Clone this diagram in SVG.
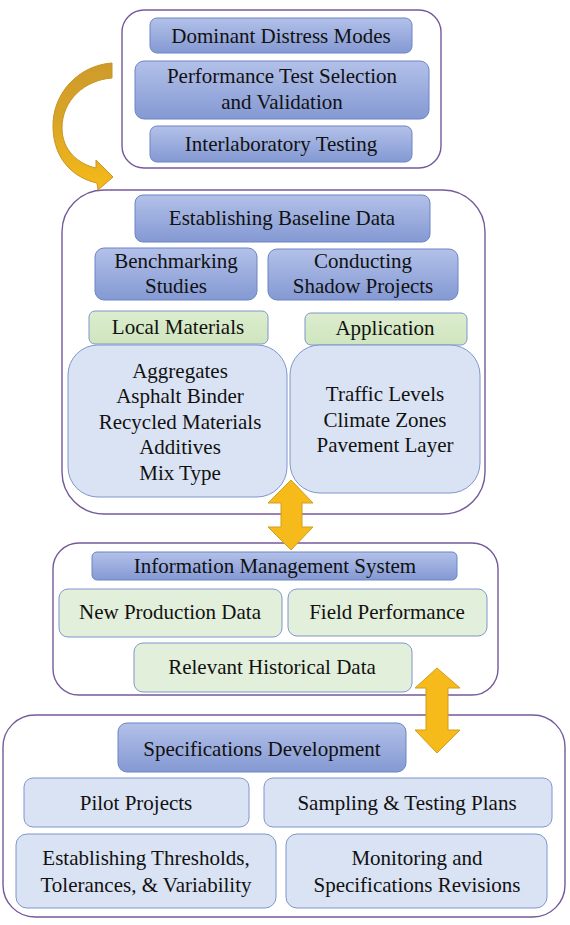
<svg xmlns="http://www.w3.org/2000/svg" width="570" height="925" viewBox="0 0 570 925">
<defs>
<linearGradient id="gDark" x1="0" y1="0" x2="0" y2="1">
<stop offset="0" stop-color="#B3C1E9"/>
<stop offset="1" stop-color="#8499D3"/>
</linearGradient>
<linearGradient id="gGreen" x1="0" y1="0" x2="0" y2="1">
<stop offset="0" stop-color="#DCEDCE"/>
<stop offset="1" stop-color="#CFE5BE"/>
</linearGradient>
<linearGradient id="gGold" x1="0" y1="0" x2="0" y2="1">
<stop offset="0" stop-color="#CE9A2C"/>
<stop offset="0.45" stop-color="#D9A526"/>
<stop offset="1" stop-color="#F6BA18"/>
</linearGradient>
<style>
.cont{fill:#FFFFFF;stroke:#76599A;stroke-width:1.4}
.dark{fill:url(#gDark);stroke:#6C84C2;stroke-width:1}
.light{fill:#DAE3F3;stroke:#7F96CC;stroke-width:1}
.green{fill:url(#gGreen);stroke:#7F96CC;stroke-width:1}
.pale{fill:#E2EFDA;stroke:#7F96CC;stroke-width:1}
.arr{fill:#F6BA1A;stroke:#D29E1E;stroke-width:1}
text{font-family:"Liberation Serif", "Times New Roman", serif;font-size:21px;fill:#111111;text-anchor:middle}
</style>
</defs>

<g id="container-top">
<rect class="cont" x="122" y="10" width="319" height="158" rx="22"/>
</g>
<g id="node-distress">
<rect class="dark" x="150" y="18" width="262" height="35" rx="7"/>
<text x="281" y="43">Dominant Distress Modes</text>
</g>
<g id="node-performance">
<rect class="dark" x="135" y="61" width="294" height="58" rx="9"/>
<text x="282" y="83">Performance Test Selection</text>
<text x="282" y="109">and Validation</text>
</g>
<g id="node-interlab">
<rect class="dark" x="150" y="126" width="262" height="36" rx="7"/>
<text x="281" y="151">Interlaboratory Testing</text>
</g>

<g id="container-baseline">
<rect class="cont" x="62" y="190" width="423" height="324" rx="42"/>
</g>
<g id="node-baseline">
<rect class="dark" x="135" y="195" width="295" height="47" rx="8"/>
<text x="282" y="225">Establishing Baseline Data</text>
</g>
<g id="node-benchmarking">
<rect class="dark" x="95" y="248" width="162" height="52" rx="9"/>
<text x="176" y="268">Benchmarking</text>
<text x="176" y="293">Studies</text>
</g>
<g id="node-shadow">
<rect class="dark" x="268" y="249" width="190" height="51" rx="9"/>
<text x="363" y="268">Conducting</text>
<text x="363" y="293">Shadow Projects</text>
</g>
<g id="node-local">
<rect class="green" x="89" y="311" width="179" height="33" rx="6"/>
<text x="178" y="334">Local Materials</text>
</g>
<g id="node-application">
<rect class="green" x="305" y="313" width="162" height="32" rx="6"/>
<text x="385" y="335">Application</text>
</g>
<g id="node-materials-list">
<rect class="light" x="68" y="345" width="219" height="152" rx="30"/>
<text x="180" y="378">Aggregates</text>
<text x="180" y="403">Asphalt Binder</text>
<text x="180" y="429">Recycled Materials</text>
<text x="180" y="454">Additives</text>
<text x="180" y="480">Mix Type</text>
</g>
<g id="node-application-list">
<rect class="light" x="290" y="345" width="190" height="148" rx="30"/>
<text x="385" y="401">Traffic Levels</text>
<text x="385" y="427">Climate Zones</text>
<text x="385" y="452">Pavement Layer</text>
</g>

<g id="container-ims">
<rect class="cont" x="53" y="543" width="445" height="152" rx="26"/>
</g>
<g id="node-ims">
<rect class="dark" x="92" y="552" width="365" height="28" rx="5"/>
<text x="275" y="573">Information Management System</text>
</g>
<g id="node-production">
<rect class="pale" x="59" y="589" width="223" height="48" rx="9"/>
<text x="170" y="619">New Production Data</text>
</g>
<g id="node-field">
<rect class="pale" x="288" y="589" width="199" height="47" rx="9"/>
<text x="387" y="619">Field Performance</text>
</g>
<g id="node-historical">
<rect class="pale" x="134" y="643" width="278" height="49" rx="9"/>
<text x="272" y="674">Relevant Historical Data</text>
</g>

<g id="container-specs">
<rect class="cont" x="3" y="715" width="562" height="202" rx="32"/>
</g>
<g id="node-specs">
<rect class="dark" x="118" y="723" width="288" height="49" rx="9"/>
<text x="262" y="756">Specifications Development</text>
</g>
<g id="node-pilot">
<rect class="light" x="24" y="778" width="225" height="49" rx="9"/>
<text x="136" y="810">Pilot Projects</text>
</g>
<g id="node-sampling">
<rect class="light" x="264" y="778" width="288" height="49" rx="9"/>
<text x="407" y="810">Sampling &amp; Testing Plans</text>
</g>
<g id="node-thresholds">
<rect class="light" x="16" y="834" width="260" height="74" rx="11"/>
<text x="146" y="865">Establishing Thresholds,</text>
<text x="146" y="892">Tolerances, &amp; Variability</text>
</g>
<g id="node-monitoring">
<rect class="light" x="286" y="834" width="261" height="74" rx="11"/>
<text x="417" y="865">Monitoring and</text>
<text x="417" y="892">Specifications Revisions</text>
</g>

<g id="connectors">
<path fill="url(#gGold)" stroke="#C8951F" stroke-width="1" d="M112 63 C80 65 52 92 53 128 C54 160 74 178 97 183 L98 190 L113 177 L96 160 L96 168 C78 164 62 150 62 128 C62 100 85 80 112 78 Z"/>
<path class="arr" d="M291 480 L313 503 L302 503 L302 527 L313 527 L291 550 L268 527 L281 527 L281 503 L268 503 Z"/>
<path class="arr" d="M437 668 L460 688 L448 688 L448 730 L460 730 L437 753 L415 730 L426 730 L426 688 L415 688 Z"/>
</g>
</svg>
